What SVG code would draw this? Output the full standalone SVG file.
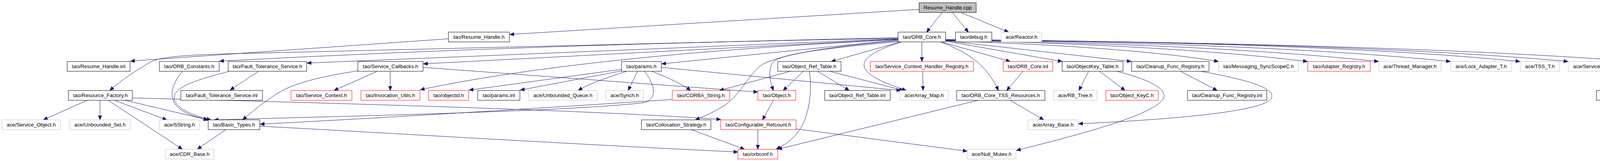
<svg xmlns="http://www.w3.org/2000/svg" width="4457" height="411" viewBox="0 0 4457 411">
<style>
.n rect{fill:#fff;stroke:#000;stroke-width:1}
.n.r rect{stroke:#ff0000}
.n.g rect{stroke:#bfbfbf}
.n.root rect{fill:#bfbfbf}
.n text{font-family:"Liberation Sans",Arial,sans-serif;font-size:13.2px;text-anchor:middle;fill:#000}
#edges path{fill:none;stroke:#191970;stroke-width:1;marker-end:url(#a)}
</style>
<defs>
<marker id="a" markerUnits="userSpaceOnUse" markerWidth="12" markerHeight="10" refX="11" refY="4.5" orient="auto">
<path d="M0,0 L11,4.5 L0,9 z" fill="#191970" stroke="#191970" stroke-width="1"/>
</marker>
</defs>
<rect width="4457" height="411" fill="#fff"/>
<g id="edges">
<path d="M2353,24 L1305,88"/>
<path d="M2412,32 L2372,82"/>
<path d="M2438,32 L2479,82"/>
<path d="M2460,32 L2582,82"/>
<path d="M1148,99 L334,156"/>
<path d="M2299,96 L600,137 C470,140 410,146 388,157 C350,178 310,205 281,231"/>
<path d="M2299,98 Q1400,112 562,156"/>
<path d="M2299,99 L786,161"/>
<path d="M2299,100 L1084,163"/>
<path d="M2299,101 Q1500,140 1076,229"/>
<path d="M2299,102 L1694,163"/>
<path d="M2300,104 C2100,120 1980,145 1948,167 C1915,192 1890,250 1850,272 C1820,290 1800,298 1780,306"/>
<path d="M2302,106 C2150,120 1995,135 1978,160 C1965,182 1972,210 1980,231"/>
<path d="M2305,107 L2128,157"/>
<path d="M2308,107 C2240,128 2212,148 2212,165 C2212,192 2265,212 2320,231"/>
<path d="M2360,107 L2360,157"/>
<path d="M2408,107 C2480,135 2525,165 2556,231"/>
<path d="M2410,107 L2586,157"/>
<path d="M2421,105 L2719,157"/>
<path d="M2421,104 L2896,157"/>
<path d="M2421,104 Q2900,120 3119,157"/>
<path d="M2421,103 Q3000,115 3347,157"/>
<path d="M2421,103 Q3100,112 3529,157"/>
<path d="M2421,102 Q3250,110 3713,157"/>
<path d="M2421,102 Q3400,108 3891,157"/>
<path d="M2421,101 Q3500,110 4014,157"/>
<path d="M2421,101 Q3600,112 4187,157"/>
<path d="M223,256 L111,306"/>
<path d="M256,256 L256,306"/>
<path d="M277,256 L467,381"/>
<path d="M293,256 L427,306"/>
<path d="M320,256 L532,306"/>
<path d="M339,250 C800,262 1500,280 1845,305"/>
<path d="M467,182 C440,215 432,245 450,268 C468,290 505,300 534,306"/>
<path d="M587,182 C520,200 462,215 448,240 C436,268 480,292 540,306"/>
<path d="M662,182 L589,230"/>
<path d="M916,181 C820,195 740,215 700,245 C660,272 640,290 621,306"/>
<path d="M966,182 L855,231"/>
<path d="M999,182 L999,231"/>
<path d="M1083,172 L1940,235"/>
<path d="M1591,177 L1201,230"/>
<path d="M1591,181 L1332,230"/>
<path d="M1604,182 C1560,196 1512,212 1480,231"/>
<path d="M1632,182 L1608,231"/>
<path d="M1650,182 C1675,215 1685,250 1650,262 C1450,285 900,296 548,306"/>
<path d="M1669,182 C1700,195 1740,210 1768,231"/>
<path d="M1693,172 L2306,231"/>
<path d="M2023,182 L1842,231"/>
<path d="M2057,182 L2005,231"/>
<path d="M2072,182 C2080,230 2072,300 2043,337 C2025,360 2005,372 1987,381"/>
<path d="M2093,182 L2174,231"/>
<path d="M2124,182 L2313,231"/>
<path d="M1721,254 C1400,275 1000,300 666,317"/>
<path d="M1980,256 L1952,306"/>
<path d="M1940,331 L1940,381"/>
<path d="M2038,329 L2476,386"/>
<path d="M1770,331 L1906,381"/>
<path d="M665,322 C1000,340 1500,370 1889,388"/>
<path d="M578,331 L505,381"/>
<path d="M2504,256 L1991,381"/>
<path d="M2586,256 L2672,306"/>
<path d="M2619,182 L2577,231"/>
<path d="M2362,182 L2363,231"/>
<path d="M2787,182 L2762,231"/>
<path d="M2815,182 L2880,231"/>
<path d="M2859,182 C2950,205 2990,230 2978,252 C2955,290 2800,335 2602,384"/>
<path d="M3022,182 L3116,231"/>
<path d="M3074,182 C3200,205 3265,225 3255,250 C3240,285 3000,305 2761,316"/>
<path d="M4245,182 L4184,231"/>
<path d="M4281,182 L4342,231"/>
</g>
<g id="n_cpp" class="n root"><rect x="2353" y="7" width="146" height="25"/><text x="2426" y="24">Resume_Handle.cpp</text></g>
<g id="n_rh_h" class="n"><rect x="1148" y="82" width="156" height="25"/><text x="1226" y="99">tao/Resume_Handle.h</text></g>
<g id="n_orb_core_h" class="n"><rect x="2299" y="82" width="122" height="25"/><text x="2360" y="99">tao/ORB_Core.h</text></g>
<g id="n_debug" class="n"><rect x="2446" y="82" width="93" height="25"/><text x="2492.5" y="99">tao/debug.h</text></g>
<g id="n_reactor" class="n g"><rect x="2563" y="82" width="104" height="25"/><text x="2615" y="99">ace/Reactor.h</text></g>
<g id="n_rh_inl" class="n"><rect x="172" y="157" width="161" height="25"/><text x="252.5" y="174">tao/Resume_Handle.inl</text></g>
<g id="n_orb_const" class="n"><rect x="408" y="157" width="153" height="25"/><text x="484.5" y="174">tao/ORB_Constants.h</text></g>
<g id="n_ft" class="n"><rect x="584" y="157" width="201" height="25"/><text x="684.5" y="174">tao/Fault_Tolerance_Service.h</text></g>
<g id="n_svc_cb" class="n"><rect x="916" y="157" width="167" height="25"/><text x="999.5" y="174">tao/Service_Callbacks.h</text></g>
<g id="n_params" class="n"><rect x="1591" y="157" width="102" height="25"/><text x="1642" y="174">tao/params.h</text></g>
<g id="n_ort" class="n"><rect x="1991" y="157" width="162" height="25"/><text x="2072" y="174">tao/Object_Ref_Table.h</text></g>
<g id="n_schr" class="n r"><rect x="2228" y="157" width="264" height="25"/><text x="2360" y="174">tao/Service_Context_Handler_Registry.h</text></g>
<g id="n_orb_inl" class="n r"><rect x="2568" y="157" width="127" height="25"/><text x="2631.5" y="174">tao/ORB_Core.inl</text></g>
<g id="n_okt" class="n"><rect x="2719" y="157" width="156" height="25"/><text x="2797" y="174">tao/ObjectKey_Table.h</text></g>
<g id="n_cfr" class="n"><rect x="2897" y="157" width="198" height="25"/><text x="2996" y="174">tao/Cleanup_Func_Registry.h</text></g>
<g id="n_msg" class="n g"><rect x="3120" y="157" width="204" height="25"/><text x="3222" y="174">tao/Messaging_SyncScopeC.h</text></g>
<g id="n_adapter" class="n r"><rect x="3348" y="157" width="160" height="25"/><text x="3428" y="174">tao/Adapter_Registry.h</text></g>
<g id="n_thread" class="n g"><rect x="3530" y="157" width="159" height="25"/><text x="3609.5" y="174">ace/Thread_Manager.h</text></g>
<g id="n_lock" class="n g"><rect x="3714" y="157" width="155" height="25"/><text x="3791.5" y="174">ace/Lock_Adapter_T.h</text></g>
<g id="n_tss" class="n g"><rect x="3892" y="157" width="100" height="25"/><text x="3942" y="174">ace/TSS_T.h</text></g>
<g id="n_svcconf" class="n g"><rect x="4015" y="157" width="150" height="25"/><text x="4090" y="174">ace/Service_Config.h</text></g>
<g id="n_parser" class="n"><rect x="4188" y="157" width="151" height="25"/><text x="4263.5" y="174">tao/Parser_Registry.h</text></g>
<g id="n_resfac" class="n"><rect x="175" y="231" width="164" height="25"/><text x="257" y="248">tao/Resource_Factory.h</text></g>
<g id="n_ft_inl" class="n"><rect x="463" y="231" width="209" height="25"/><text x="567.5" y="248">tao/Fault_Tolerance_Service.inl</text></g>
<g id="n_svc_ctx" class="n r"><rect x="745" y="231" width="156" height="25"/><text x="823" y="248">tao/Service_Context.h</text></g>
<g id="n_inv" class="n r"><rect x="924" y="231" width="151" height="25"/><text x="999.5" y="248">tao/Invocation_Utils.h</text></g>
<g id="n_objectid" class="n r"><rect x="1097" y="231" width="103" height="25"/><text x="1148.5" y="248">tao/objectid.h</text></g>
<g id="n_params_inl" class="n"><rect x="1223" y="231" width="108" height="25"/><text x="1277" y="248">tao/params.inl</text></g>
<g id="n_uq" class="n g"><rect x="1353" y="231" width="176" height="25"/><text x="1441" y="248">ace/Unbounded_Queue.h</text></g>
<g id="n_synch" class="n g"><rect x="1551" y="231" width="96" height="25"/><text x="1599" y="248">ace/Synch.h</text></g>
<g id="n_corba_str" class="n r"><rect x="1721" y="231" width="147" height="25"/><text x="1794.5" y="248">tao/CORBA_String.h</text></g>
<g id="n_object" class="n r"><rect x="1940" y="231" width="97" height="25"/><text x="1988.5" y="248">tao/Object.h</text></g>
<g id="n_ort_inl" class="n"><rect x="2111" y="231" width="168" height="25"/><text x="2195" y="248">tao/Object_Ref_Table.inl</text></g>
<g id="n_array_map" class="n g"><rect x="2304" y="231" width="124" height="25"/><text x="2366" y="248">ace/Array_Map.h</text></g>
<g id="n_tss_res" class="n"><rect x="2449" y="231" width="226" height="25"/><text x="2562" y="248">tao/ORB_Core_TSS_Resources.h</text></g>
<g id="n_rbtree" class="n g"><rect x="2697" y="231" width="111" height="25"/><text x="2752.5" y="248">ace/RB_Tree.h</text></g>
<g id="n_okc" class="n r"><rect x="2831" y="231" width="134" height="25"/><text x="2898" y="248">tao/Object_KeyC.h</text></g>
<g id="n_cfr_inl" class="n"><rect x="3040" y="231" width="203" height="25"/><text x="3141.5" y="248">tao/Cleanup_Func_Registry.inl</text></g>
<g id="n_parser_inl" class="n"><rect x="4087" y="231" width="157" height="25"/><text x="4165.5" y="248">tao/Parser_Registry.inl</text></g>
<g id="n_stddef" class="n g"><rect x="4268" y="231" width="184" height="25"/><text x="4360" y="248">ace/os_include/os_stddef.h</text></g>
<g id="n_svc_obj" class="n g"><rect x="5" y="306" width="150" height="25"/><text x="80" y="323">ace/Service_Object.h</text></g>
<g id="n_uset" class="n g"><rect x="179" y="306" width="154" height="25"/><text x="256" y="323">ace/Unbounded_Set.h</text></g>
<g id="n_sstring" class="n g"><rect x="408" y="306" width="103" height="25"/><text x="459.5" y="323">ace/SString.h</text></g>
<g id="n_basic" class="n"><rect x="533" y="306" width="132" height="25"/><text x="599" y="323">tao/Basic_Types.h</text></g>
<g id="n_colloc" class="n"><rect x="1642" y="306" width="178" height="25"/><text x="1731" y="323">tao/Collocation_Strategy.h</text></g>
<g id="n_cref" class="n r"><rect x="1845" y="306" width="193" height="25"/><text x="1941.5" y="323">tao/Configurable_Refcount.h</text></g>
<g id="n_array_base" class="n g"><rect x="2632" y="306" width="128" height="25"/><text x="2696" y="323">ace/Array_Base.h</text></g>
<g id="n_cdr" class="n g"><rect x="423" y="381" width="125" height="25"/><text x="485.5" y="398">ace/CDR_Base.h</text></g>
<g id="n_orbconf" class="n r"><rect x="1889" y="381" width="102" height="25"/><text x="1940" y="398">tao/orbconf.h</text></g>
<g id="n_null_mutex" class="n g"><rect x="2476" y="381" width="125" height="25"/><text x="2538.5" y="398">ace/Null_Mutex.h</text></g>
</svg>
